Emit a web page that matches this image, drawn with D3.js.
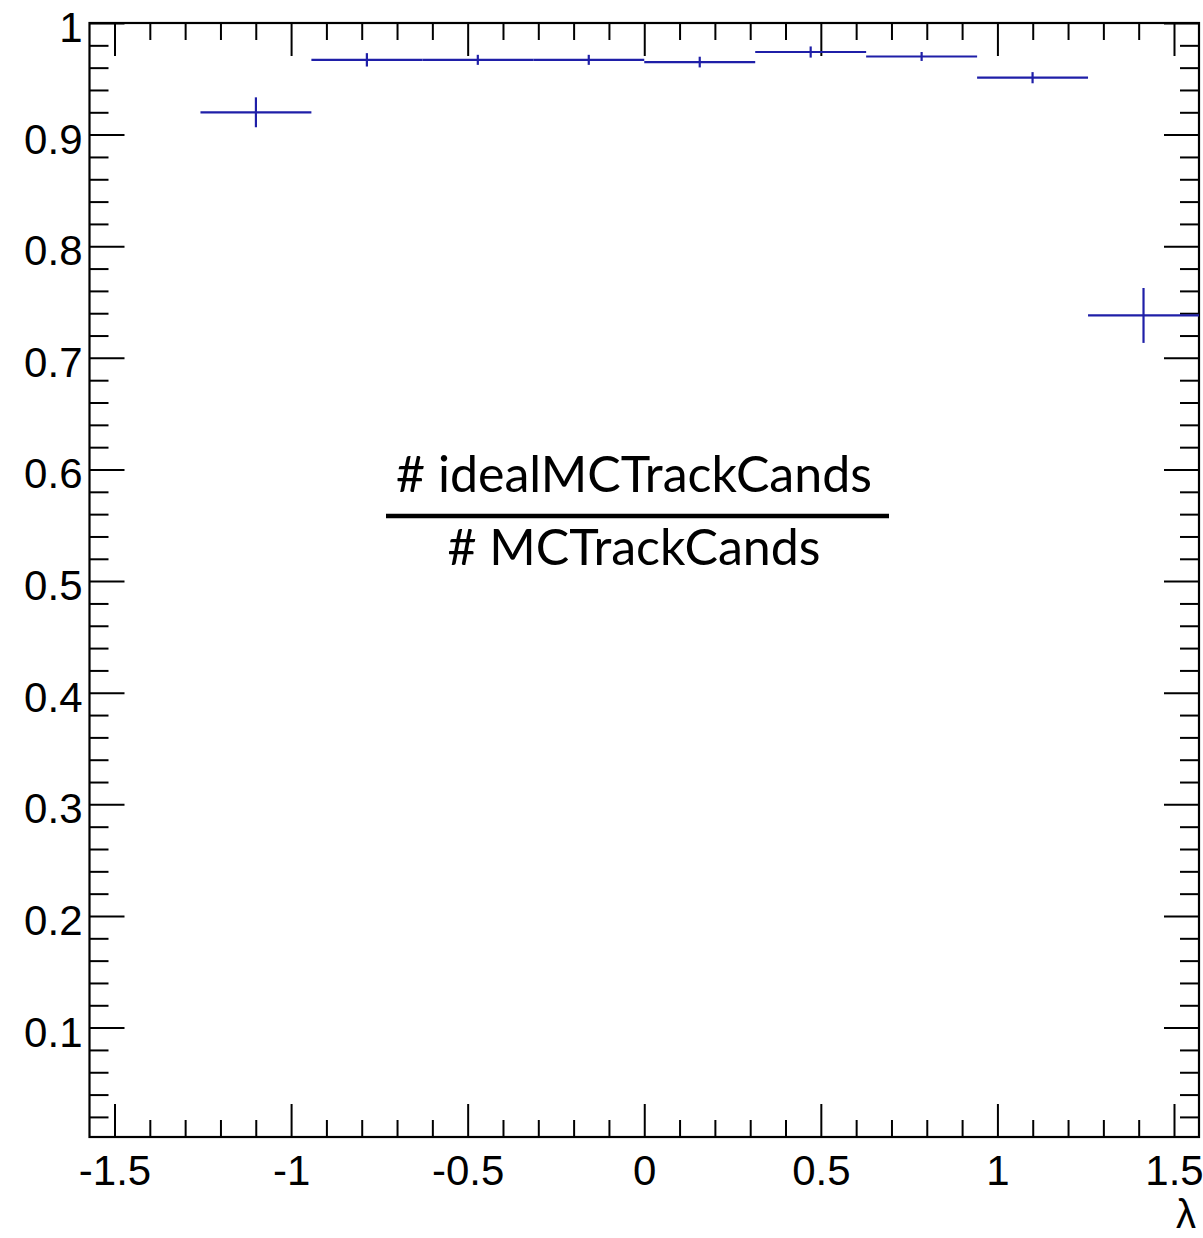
<!DOCTYPE html>
<html>
<head>
<meta charset="utf-8">
<script src="https://cdn.jsdelivr.net/npm/d3@7"></script>
<style>
  html, body { margin: 0; padding: 0; background: #fff; }
  svg { display: block; }
  .axis text { font-family: "Liberation Sans", Arial, sans-serif; font-size: 42px; fill: #000; }
</style>
</head>
<body>
<svg id="chart" width="1203" height="1238"></svg>
<script>
// Efficiency vs. dip angle lambda, 10 bins over [-pi/2, pi/2]
const binLow  = [-1.5708, -1.2566, -0.9425, -0.6283, -0.3142, 0.0000, 0.3142, 0.6283, 0.9425, 1.2566];
const binHigh = [-1.2566, -0.9425, -0.6283, -0.3142, 0.0000, 0.3142, 0.6283, 0.9425, 1.2566, 1.5708];
const efficiency = [null, 0.920, 0.967, 0.967, 0.967, 0.965, 0.974, 0.970, 0.951, 0.738];
const errors     = [null, 0.0134, 0.0060, 0.0045, 0.0045, 0.0048, 0.0050, 0.0040, 0.0050, 0.0246];

const xMajorTicks = [-1.5, -1, -0.5, 0, 0.5, 1, 1.5];
const xTickLabels = ["-1.5", "-1", "-0.5", "0", "0.5", "1", "1.5"];
const yMajorTicks = [0.1, 0.2, 0.3, 0.4, 0.5, 0.6, 0.7, 0.8, 0.9, 1.0];
const yTickLabels = ["0.1", "0.2", "0.3", "0.4", "0.5", "0.6", "0.7", "0.8", "0.9", "1"];
const xMinorTicks = [-1.4, -1.3, -1.2, -1.1, -0.9, -0.8, -0.7, -0.6, -0.4, -0.3, -0.2, -0.1,
                     0.1, 0.2, 0.3, 0.4, 0.6, 0.7, 0.8, 0.9, 1.1, 1.2, 1.3, 1.4];
const yMinorTicks = [0.02, 0.04, 0.06, 0.08, 0.12, 0.14, 0.16, 0.18, 0.22, 0.24, 0.26, 0.28,
                     0.32, 0.34, 0.36, 0.38, 0.42, 0.44, 0.46, 0.48, 0.52, 0.54, 0.56, 0.58,
                     0.62, 0.64, 0.66, 0.68, 0.72, 0.74, 0.76, 0.78, 0.82, 0.84, 0.86, 0.88,
                     0.92, 0.94, 0.96, 0.98];

const titleNumerator = "# idealMCTrackCands";
const titleDenominator = "# MCTrackCands";
const xTitle = "\u03bb";

const frame = { left: 89.5, right: 1199, top: 23, bottom: 1137 };
const svg = d3.select("#chart");

const x = d3.scaleLinear().domain([-Math.PI / 2, Math.PI / 2]).range([frame.left, frame.right]);
const y = d3.scaleLinear().domain([0.002, 1.0]).range([frame.bottom, frame.top]);

const majX = 33, minX = 17, majY = 35, minY = 19;

function styleAxis(g) {
  g.select(".domain").remove();
  g.selectAll(".tick line").attr("stroke", "#000").attr("stroke-width", 2);
}

// Bottom axis with labels
const gBottom = svg.append("g").attr("class", "axis").attr("transform", `translate(0,${frame.bottom})`);
gBottom.call(d3.axisBottom(x).tickValues(xMajorTicks).tickSize(-majX).tickPadding(0)
  .tickFormat((d, i) => xTickLabels[i]));
gBottom.selectAll(".tick text").attr("y", 48).attr("dy", 0);
styleAxis(gBottom);
svg.append("g").attr("transform", `translate(0,${frame.bottom})`)
  .call(d3.axisBottom(x).tickValues(xMinorTicks).tickSize(-minX).tickFormat(""))
  .call(styleAxis);

// Top axis (ticks only)
svg.append("g").attr("transform", `translate(0,${frame.top})`)
  .call(d3.axisTop(x).tickValues(xMajorTicks).tickSize(-majX).tickFormat(""))
  .call(styleAxis);
svg.append("g").attr("transform", `translate(0,${frame.top})`)
  .call(d3.axisTop(x).tickValues(xMinorTicks).tickSize(-minX).tickFormat(""))
  .call(styleAxis);

// Left axis with labels
const gLeft = svg.append("g").attr("class", "axis").attr("transform", `translate(${frame.left},0)`);
gLeft.call(d3.axisLeft(y).tickValues(yMajorTicks).tickSize(-majY).tickPadding(0)
  .tickFormat((d, i) => yTickLabels[i]));
gLeft.selectAll(".tick text").attr("x", -7).attr("dy", 0).attr("y", 18.5);
styleAxis(gLeft);
svg.append("g").attr("transform", `translate(${frame.left},0)`)
  .call(d3.axisLeft(y).tickValues(yMinorTicks).tickSize(-minY).tickFormat(""))
  .call(styleAxis);

// Right axis (ticks only)
svg.append("g").attr("transform", `translate(${frame.right},0)`)
  .call(d3.axisRight(y).tickValues(yMajorTicks).tickSize(-majY).tickFormat(""))
  .call(styleAxis);
svg.append("g").attr("transform", `translate(${frame.right},0)`)
  .call(d3.axisRight(y).tickValues(yMinorTicks).tickSize(-minY).tickFormat(""))
  .call(styleAxis);

// Frame
svg.append("rect")
  .attr("x", frame.left).attr("y", frame.top)
  .attr("width", frame.right - frame.left).attr("height", frame.bottom - frame.top)
  .attr("fill", "none").attr("stroke", "#000").attr("stroke-width", 2.2);

// Data points with bin-width and statistical error bars
const points = efficiency.map((v, i) => ({ lo: binLow[i], hi: binHigh[i], v, e: errors[i] }))
  .filter(d => d.v !== null);
const color = "#1f1fa8";
const gData = svg.append("g");
gData.selectAll("line.h").data(points).join("line").attr("class", "h")
  .attr("x1", d => x(d.lo)).attr("x2", d => x(d.hi))
  .attr("y1", d => y(d.v)).attr("y2", d => y(d.v))
  .attr("stroke", color).attr("stroke-width", 2.2);
gData.selectAll("line.v").data(points).join("line").attr("class", "v")
  .attr("x1", d => x((d.lo + d.hi) / 2)).attr("x2", d => x((d.lo + d.hi) / 2))
  .attr("y1", d => y(d.v - d.e)).attr("y2", d => y(d.v + d.e))
  .attr("stroke", color).attr("stroke-width", 2.2);

// Fraction title
const gTitle = svg.append("g");
const cx = 634;
const num = gTitle.append("text").text(titleNumerator)
  .attr("x", cx).attr("y", 492).attr("text-anchor", "middle")
  .style("font-family", "Lato, 'Open Sans', sans-serif").style("font-size", "40px").attr("fill", "#000");
const den = gTitle.append("text").text(titleDenominator)
  .attr("x", cx).attr("y", 565).attr("text-anchor", "middle")
  .style("font-family", "Lato, 'Open Sans', sans-serif").style("font-size", "40px").attr("fill", "#000");
// scale the title font so the numerator spans its measured width
const nw = num.node().getComputedTextLength();
const fs = 40 * 476 / nw;
num.style("font-size", fs + "px");
den.style("font-size", fs + "px");
gTitle.append("line").attr("x1", 386).attr("x2", 889).attr("y1", 516).attr("y2", 516)
  .attr("stroke", "#000").attr("stroke-width", 4.5);

// X-axis title
svg.append("text").text(xTitle)
  .attr("x", 1196).attr("y", 1228).attr("text-anchor", "end")
  .style("font-family", "'Liberation Sans', Arial, sans-serif").style("font-size", "40px");
</script>
</body>
</html>
